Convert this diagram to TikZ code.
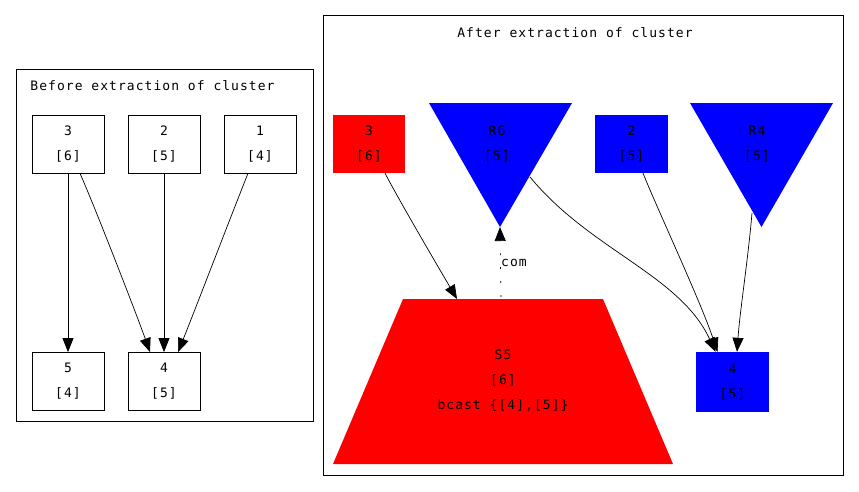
\documentclass[tikz,border=0pt]{standalone}
\usepackage{fontspec}
\newfontfamily\gvmono[LetterSpace=8]{DejaVu Sans Mono}
\usetikzlibrary{arrows.meta,calc}
\definecolor{gvred}{RGB}{255,0,0}
\definecolor{gvblue}{RGB}{0,0,255}
\begin{document}
\begin{tikzpicture}[x=1pt,y=-1pt,
  lbl/.style={font=\gvmono\fontsize{13}{25}\selectfont, align=center, inner sep=0pt},
  gbox/.style={lbl, draw=black, line width=0.8pt, minimum width=72pt, minimum height=58pt},
  redbox/.style={lbl, fill=gvred, minimum width=72pt, minimum height=58pt},
  bluebox/.style={lbl, fill=gvblue, minimum width=73pt, minimum height=58pt},
  edge/.style={line width=0.7pt, -{Triangle[length=14pt,width=11pt]}},
  dottededge/.style={edge, dash pattern=on 2pt off 12pt},
  cluster/.style={draw=black, line width=0.8pt}
]
\useasboundingbox (0,0) rectangle (859,491);

% clusters
\draw[cluster] (16,69) rectangle (313,421);
\node[lbl] (T1) at (152.5,86) {Before extraction of cluster};
\draw[cluster] (323,15) rectangle (843,475);
\node[lbl] (T2) at (575,33) {After extraction of cluster};

% left graph
\node[gbox] (L3) at (68,144) {3\\{}[6]};
\node[gbox] (L2) at (164,144) {2\\{}[5]};
\node[gbox] (L1) at (260,144) {1\\{}[4]};
\node[gbox] (L5) at (68,381.5) {5\\{}[4]};
\node[gbox] (L4) at (164,381.5) {4\\{}[5]};

\draw[edge] (L3.south) -- (L5.north);
\draw[edge] ([xshift=12pt]L3.south) .. controls (92,200) and (135,310) .. ([xshift=-14pt]L4.north);
\draw[edge] (L2.south) -- (L4.north);
\draw[edge] ([xshift=-12pt]L1.south) .. controls (236,203) and (195,310) .. ([xshift=14pt]L4.north);

% right graph
\node[redbox] (R3) at (369,144) {3\\{}[6]};
\fill[gvblue] (429,103) -- (572,103) -- (500,227) -- cycle;
\coordinate (R6apex) at (500,227);
\coordinate (R6e) at (530,177);
\node[lbl] (R6) at (497,144) {R6\\{}[5]};
\node[bluebox] (R2) at (631.5,144) {2\\{}[5]};
\fill[gvblue] (690,103) -- (833,103) -- (761.5,227) -- cycle;
\coordinate (R4e) at (752,213);
\node[lbl] (R4) at (757,144) {R4\\{}[5]};
\fill[gvred] (403,299) -- (603,299) -- (673,464) -- (333,464) -- cycle;
\coordinate (S5in) at (457,299);
\coordinate (S5top) at (501,297);
\node[lbl] (S5) at (503,381) {S5\\{}[6]\\bcast \{[4],[5]\}};
\node[bluebox, minimum height=60pt] (N4) at (732.5,382) {4\\{}[5]};

\draw[edge] ([xshift=16pt]R3.south) .. controls (400,202) and (440,270) .. (S5in);
\draw[dottededge] (S5top) -- (R6apex);
\node[lbl, anchor=west] (com) at (501,263) {com};
\draw[edge] (R6e) .. controls (590,250) and (680,275) .. ([xshift=-17pt]N4.north);
\draw[edge] ([xshift=11.5pt]R2.south) .. controls (660,215) and (700,300) .. ([xshift=-15pt]N4.north);
\draw[edge] (R4e) .. controls (748,260) and (740,310) .. ([xshift=4.5pt]N4.north);
\end{tikzpicture}
\end{document}
